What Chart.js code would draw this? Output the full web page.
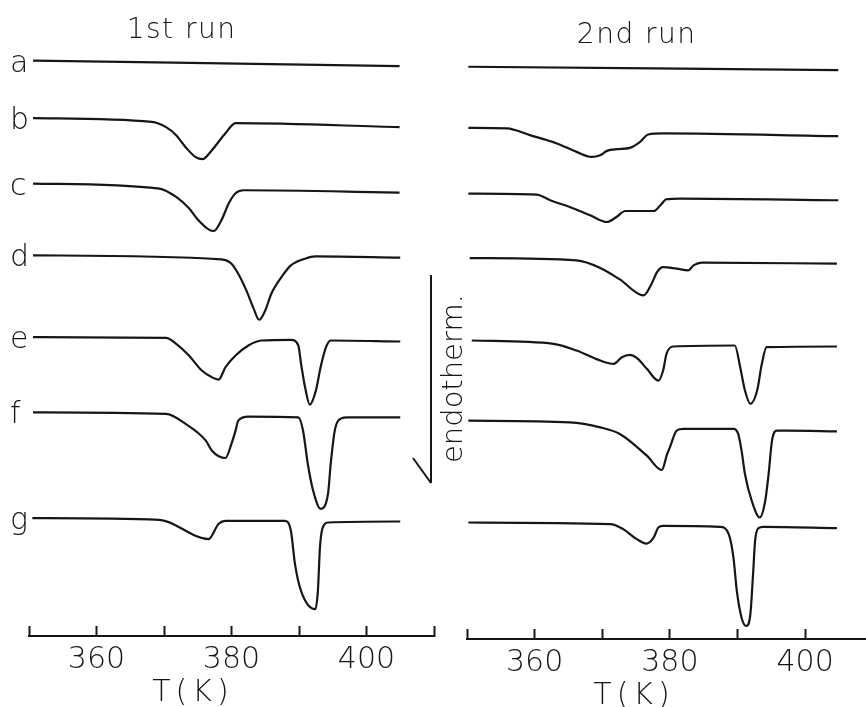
<!DOCTYPE html>
<html>
<head>
<meta charset="utf-8">
<script src="https://cdn.jsdelivr.net/npm/chart.js@4.4.1/dist/chart.umd.min.js"></script>
<style>
  html, body { margin: 0; padding: 0; background: #fff; overflow: hidden; }
  body { width: 866px; height: 707px; position: relative; }
  .panel { position: absolute; top: 0; height: 707px; }
  #run1 { left: 0; width: 450px; }
  #run2 { left: 400px; width: 466px; }
</style>
</head>
<body>
<div class="panel" id="run1"><canvas id="chartRun1"></canvas></div>
<div class="panel" id="run2"><canvas id="chartRun2"></canvas></div>
<script>
// DSC traces, samples a-g; heat flow in arb. units (endotherm negative)
const sampleLabels = ['a', 'b', 'c', 'd', 'e', 'f', 'g'];
const tickValues = [350, 360, 370, 380, 390, 400, 410];
const tickLabels = [360, 380, 400];

// ---- 1st run ----
const run1_a_T = [350.6, 404.9];
const run1_a_H = [0, -5.5];
const run1_b_T = [350.6, 368.2, 370.3, 371.8, 373.2, 374.7, 375.7, 377.1, 379.1, 380.6, 404.9];
const run1_b_H = [0, -3.7, -9, -17, -29, -39, -41, -32, -15, -5, -9];
const run1_c_T = [350.6, 369.3, 371.8, 373.7, 375.1, 376.6, 377.4, 378.5, 379.6, 380.6, 381.8, 404.9];
const run1_c_H = [0, -5, -13.4, -24.7, -36.7, -45.7, -47.4, -36.7, -19.7, -9.7, -6.7, -9];
const run1_d_T = [350.6, 378.5, 380, 381, 382.2, 383.2, 384.1, 385, 385.9, 387.4, 388.8, 390.9, 392.4, 405];
const run1_d_H = [0, -4, -8.3, -18.3, -35, -51.7, -64.3, -55, -38.3, -21.7, -10, -3.3, -1, -2.3];
const run1_e_T = [350.6, 370.3, 371.8, 373.7, 375.6, 377.1, 378.1, 379.1, 380.6, 382.5, 384.4, 388.8, 389.9, 390.3, 390.9, 391.6, 392.5, 393.2, 394, 394.7, 405];
const run1_e_H = [0, -0.6, -6.6, -18.3, -33.3, -40, -42.3, -30, -18.3, -8.3, -3.3, -2.6, -8.3, -26.3, -50, -67.3, -53.3, -30, -10, -3.3, -4.3];
const run1_f_T = [350.6, 370.3, 373.2, 376.2, 377.1, 379.1, 380, 380.6, 381, 382.5, 389.9, 390.6, 391.3, 392.1, 393.2, 394.3, 394.7, 395.3, 396.2, 397.2, 405];
const run1_f_H = [0, -1.6, -11.6, -28.3, -38.3, -45.6, -31.3, -18.3, -8.3, -4.3, -5, -18.3, -51.3, -78.3, -96.3, -81.3, -51.3, -18.3, -6.3, -5, -5];
const run1_g_T = [350.5, 369.3, 376.6, 378.1, 379.1, 387.9, 388.8, 389.4, 390.3, 392.4, 392.8, 393.1, 393.5, 394.3, 405];
const run1_g_H = [0, -1.7, -21, -5.7, -2.7, -2.7, -12.7, -45.7, -72.7, -91, -72.7, -29.7, -9.7, -4.4, -3.4];
// vertical shift of each trace
const run1Offsets = [574.5, 517, 451.7, 380, 298.3, 223.3, 117.7];

// ---- 2nd run ----
const run2_a_T = [350.2, 404.9];
const run2_a_H = [0, -3.3];
const run2_b_T = [350.2, 355.9, 359.3, 363.3, 366.2, 368.4, 369.7, 370.7, 372.2, 374.1, 375.6, 376.8, 379, 404.9];
const run2_b_H = [0, -0.6, -7.3, -15.6, -24, -29, -27.3, -23, -21.3, -20, -14, -6.6, -5.6, -8.3];
const run2_c_T = [350.2, 360.3, 362.3, 365.2, 368.2, 370.7, 372.1, 373.4, 375.1, 377.6, 378.6, 379.5, 381.5, 404.9];
const run2_c_H = [0, -1, -6.7, -13.4, -21.7, -28.4, -23.4, -17.4, -17.4, -17.4, -11.7, -5.7, -5, -6.7];
const run2_d_T = [350.4, 366.2, 369.7, 372.6, 376.1, 377.3, 378.1, 379, 381, 382.7, 383.5, 384.7, 404.7];
const run2_d_H = [0, -2.3, -9.8, -21.3, -37.3, -25.6, -14, -9, -10.6, -12.3, -7.3, -4.6, -5.6];
const run2_e_T = [350.7, 362.8, 366.2, 369.7, 371.7, 372.9, 374.1, 375.1, 376.6, 378.3, 379, 379.5, 380.5, 389.6, 390.4, 391.1, 391.9, 392.9, 393.6, 394.3, 404.7];
const run2_e_H = [0, -3.3, -10, -20, -23.3, -16.7, -14.3, -17.3, -28.3, -40, -30, -13.3, -6, -5, -26.7, -50, -63.3, -50, -23.3, -6.7, -6];
const run2_f_T = [350.2, 365.2, 369.7, 372.6, 376.6, 378.8, 379.6, 380, 381, 382, 389.4, 390.1, 390.6, 391.1, 392.1, 393.3, 394.1, 394.6, 395.1, 395.8, 397.3, 404.7];
const run2_f_H = [0, -1.7, -6.7, -13.3, -35, -49.3, -33.3, -26.7, -10, -8.3, -8.3, -13.3, -30, -53.3, -80, -96.7, -80, -53.3, -20, -10, -10, -10.7];
const run2_g_T = [350.2, 371.2, 373.1, 375.1, 376.5, 377.6, 378.3, 379, 387.4, 388.7, 389.4, 389.9, 390.6, 391.3, 391.9, 392.3, 392.6, 393.1, 393.8, 404.7];
const run2_g_H = [0, -1.6, -6.6, -16.6, -21, -15, -5, -3.3, -4.3, -11.6, -35, -68.3, -95, -103.3, -91.6, -51.6, -18.3, -5.6, -4.3, -5.6];
const run2Offsets = [571.3, 510.3, 444.7, 380.3, 298, 218, 116.3];

const INK = '#161616';
const FONT = "'DejaVu Sans', sans-serif";
const WEIGHT = '200';

function buildDatasets(temps, signals, offsets) {
  return temps.map((t, i) => ({
    label: sampleLabels[i],
    data: t.map((T, j) => ({ x: T, y: offsets[i] + signals[i][j] })),
    borderColor: INK,
    borderWidth: 2.2,
    pointRadius: 0,
    cubicInterpolationMode: 'monotone',
    fill: false
  }));
}

// titles, sample letters, T(K) and the endotherm marker
const panelText = {
  id: 'panelText',
  afterDraw(chart, args, opts) {
    const { ctx, chartArea } = chart;
    const x = chart.scales.x;
    ctx.save();
    ctx.fillStyle = INK;
    ctx.strokeStyle = INK;
    ctx.textBaseline = 'alphabetic';
    ctx.textAlign = 'center';

    ctx.font = `${WEIGHT} 28px ${FONT}`;
    ctx.letterSpacing = '1.5px';
    ctx.fillText(opts.title, x.getPixelForValue(opts.titleAt), opts.titleBaseline);

    ctx.font = `${WEIGHT} 30px ${FONT}`;
    ctx.letterSpacing = '5px';
    ctx.fillText('T(K)', x.getPixelForValue(opts.axisTitleAt) + 2, chartArea.bottom + 65);
    ctx.letterSpacing = '0px';

    if (opts.letters) {
      ctx.textAlign = 'left';
      chart.data.datasets.forEach((ds, i) => {
        const first = chart.getDatasetMeta(i).data[0];
        ctx.fillText(ds.label, 10, first.y + 11);
      });
    }

    if (opts.endotherm) {
      const lx = chartArea.left - 36;
      ctx.lineWidth = 2;
      ctx.beginPath();
      ctx.moveTo(lx, 275);
      ctx.lineTo(lx, 483);
      ctx.moveTo(lx - 18, 458);
      ctx.lineTo(lx, 483);
      ctx.stroke();
      ctx.translate(lx + 31, 463);
      ctx.rotate(-Math.PI / 2);
      ctx.textAlign = 'left';
      ctx.font = `${WEIGHT} 29px ${FONT}`;
      ctx.fillText('endotherm.', 0, 0);
    }
    ctx.restore();
  }
};

function xScale(max) {
  return {
    type: 'linear',
    min: 350,
    max: max,
    afterBuildTicks: s => { s.ticks = tickValues.filter(v => v <= max).map(v => ({ value: v })); },
    ticks: {
      autoSkip: false,
      maxRotation: 0,
      padding: 16,
      color: INK,
      font: { family: FONT, size: 30, weight: WEIGHT },
      callback: v => tickLabels.includes(v) ? String(v) : ''
    },
    grid: { display: true, drawOnChartArea: false, drawTicks: true, tickLength: -10, tickWidth: 2, tickColor: INK },
    border: { display: true, color: INK, width: 2 }
  };
}

function makeChart(id, datasets, xMax, padding, textOpts) {
  return new Chart(document.getElementById(id), {
    type: 'line',
    data: { datasets },
    options: {
      responsive: true,
      maintainAspectRatio: false,
      animation: false,
      layout: { padding },
      plugins: { legend: { display: false }, tooltip: { enabled: false }, panelText: textOpts },
      scales: {
        x: xScale(xMax),
        y: { display: false, min: 0, max: 595 }
      }
    },
    plugins: [panelText]
  });
}

makeChart('chartRun1',
  buildDatasets([run1_a_T, run1_b_T, run1_c_T, run1_d_T, run1_e_T, run1_f_T, run1_g_T],
                [run1_a_H, run1_b_H, run1_c_H, run1_d_H, run1_e_H, run1_f_H, run1_g_H], run1Offsets),
  410, { left: 29, right: 13, top: 40, bottom: 13 },
  { title: '1st run', titleAt: 372.6, titleBaseline: 38, axisTitleAt: 374, letters: true });

makeChart('chartRun2',
  buildDatasets([run2_a_T, run2_b_T, run2_c_T, run2_d_T, run2_e_T, run2_f_T, run2_g_T],
                [run2_a_H, run2_b_H, run2_c_H, run2_d_H, run2_e_H, run2_f_H, run2_g_H], run2Offsets),
  409, { left: 67, right: 0, top: 43, bottom: 10 },
  { title: '2nd run', titleAt: 375.1, titleBaseline: 43, axisTitleAt: 374.4, endotherm: true });
</script>
</body>
</html>
